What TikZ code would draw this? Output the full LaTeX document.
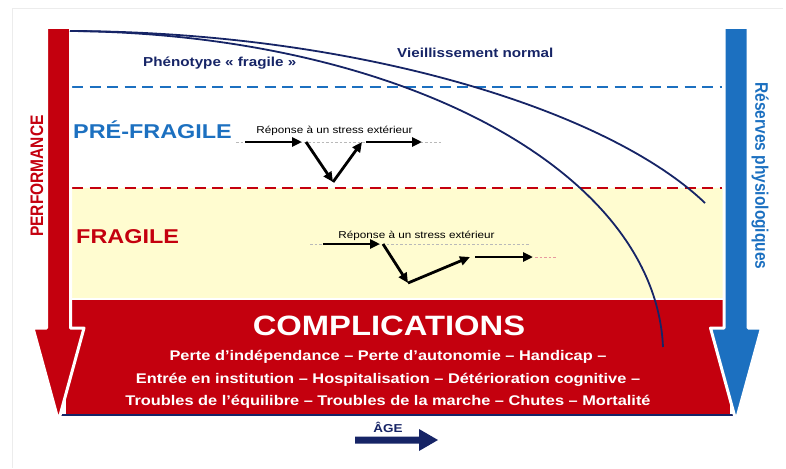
\documentclass[tikz,border=0pt]{standalone}
\usepackage{fontspec}
\setmainfont{Liberation Sans}
\usetikzlibrary{arrows.meta}
\definecolor{fragred}{RGB}{196,0,14}
\definecolor{resblue}{RGB}{28,112,192}
\definecolor{agenavy}{RGB}{22,36,102}
\definecolor{fragyellow}{RGB}{255,252,208}
\newcommand{\fsz}[1]{\fontsize{#1}{#1}\selectfont}

\begin{document}
\begin{tikzpicture}[x=1pt,y=-1pt,
	widetext/.style={xscale=1.17, inner sep=0pt},
	stressarrow/.style={black, line width=2.8pt, -{Triangle[length=10pt,width=9pt]}},
	guide/.style={gray!55, line width=0.8pt, dash pattern=on 2.5pt off 2pt},
	level/.style={line width=2.6pt, dash pattern=on 11pt off 6.5pt},
	agecurve/.style={agenavy, line width=1.8pt},
	bigarrow/.style={draw=white, line width=3pt, line join=round}]
	% Parameters
	\def\shafttop{27.5}
	\def\headtop{328}
	\def\tipy{421}
	\def\lx{58.5}
	\def\rx{736}
	\def\shafthw{12}
	\def\headhw{25.5}
	\def\ypre{87}
	\def\yfrag{188}
	\def\ycomp{300}
	\def\ybase{415}
	
	\useasboundingbox (0,0) rectangle (786,468);
	
	%frame
	\draw[gray!15, line width=0.8pt] (12,468) -- (12,8) -- (783,8);
	
	%zones
	\fill[fragyellow] (66,\yfrag) rectangle (730,298);
	\fill[fragred] (66,\ycomp) rectangle (730,\ybase);
	\draw[agenavy, line width=1.5pt] (60,\ybase) -- (734,\ybase);
	
	%levels
	\draw[level, resblue] (72,\ypre) -- (722,\ypre);
	\draw[level, fragred] (72,\yfrag) -- (722,\yfrag);
	
	%big arrows
	\filldraw[bigarrow, fill=fragred] (\lx-\shafthw,\shafttop) -- (\lx+\shafthw,\shafttop) -- (\lx+\shafthw,\headtop) -- (\lx+\headhw,\headtop) -- (\lx,\tipy) -- (\lx-\headhw,\headtop) -- (\lx-\shafthw,\headtop) -- cycle;
	\filldraw[bigarrow, fill=resblue] (\rx-\shafthw,\shafttop) -- (\rx+\shafthw,\shafttop) -- (\rx+\shafthw,\headtop) -- (\rx+\headhw,\headtop) -- (\rx,\tipy) -- (\rx-\headhw,\headtop) -- (\rx-\shafthw,\headtop) -- cycle;
	
	%curves
	\coordinate (start) at (70,31);
	\coordinate (normalend) at (705,203);
	\coordinate (fragileend) at (663,347);
	\draw[agecurve] (start) .. controls (358,32) and (608,110) .. (normalend);
	\draw[agecurve] (start) .. controls (400,34) and (655,170) .. (fragileend);
	
	%labels
	\node[widetext, agenavy, font=\bfseries\fsz{13}, anchor=base west] (pheno) at (143,67) {Phénotype « fragile »};
	\node[widetext, agenavy, font=\bfseries\fsz{13}, anchor=base west] (normal) at (397,58) {Vieillissement normal};
	\node[widetext, resblue, font=\bfseries\fsz{20}, anchor=base west] (prefrag) at (73,138) {PRÉ-FRAGILE};
	\node[widetext, fragred, font=\bfseries\fsz{20}, anchor=base west] (frag) at (76,243) {FRAGILE};
	\node[xscale=1.17, rotate=90, inner sep=0pt, fragred, font=\bfseries\fsz{15.5}] (perf) at (37,176) {PERFORMANCE};
	\node[xscale=1.17, rotate=-90, inner sep=0pt, resblue, font=\bfseries\fsz{15.5}] (reserves) at (760,176) {Réserves physiologiques};
	
	%complications
	\node[widetext, white, font=\bfseries\fsz{28}, anchor=base] (comp) at (389,335) {COMPLICATIONS};
	\node[widetext, white, font=\bfseries\fsz{14}, anchor=base] (compi) at (388,360) {Perte d’indépendance – Perte d’autonomie – Handicap –};
	\node[widetext, white, font=\bfseries\fsz{14}, anchor=base] (compii) at (388,383) {Entrée en institution – Hospitalisation – Détérioration cognitive –};
	\node[widetext, white, font=\bfseries\fsz{14}, anchor=base] (compiii) at (388,405) {Troubles de l’équilibre – Troubles de la marche – Chutes – Mortalité};
	
	%stress pre-fragile
	\node[widetext, font=\fsz{10}, anchor=base] (stressa) at (334.5,133) {Réponse à un stress extérieur};
	\coordinate (a0) at (245,142);
	\coordinate (a1) at (302,142);
	\coordinate (a2) at (306,142);
	\coordinate (a3) at (333,182);
	\coordinate (a4) at (362,142);
	\coordinate (a5) at (366,142);
	\coordinate (a6) at (422,142);
	\draw[guide] (236,142) -- (442,142);
	\draw[stressarrow] (a0) -- (a1);
	\draw[stressarrow] (a2) -- (a3);
	\draw[stressarrow] (a3) -- (a4);
	\draw[stressarrow] (a5) -- (a6);
	
	%stress fragile
	\node[widetext, font=\fsz{10}, anchor=base] (stressb) at (416.5,238) {Réponse à un stress extérieur};
	\coordinate (b0) at (323,244);
	\coordinate (b1) at (380,244);
	\coordinate (b2) at (383,244);
	\coordinate (b3) at (408,283);
	\coordinate (b4) at (470,257);
	\coordinate (b5) at (475,257);
	\coordinate (b6) at (533,257);
	\draw[guide] (310,244) -- (530,244);
	\draw[guide, fragred!40] (535,257) -- (556,257);
	\draw[stressarrow] (b0) -- (b1);
	\draw[stressarrow] (b2) -- (b3);
	\draw[stressarrow] (b3) -- (b4);
	\draw[stressarrow] (b5) -- (b6);
	
	%age
	\node[widetext, agenavy, font=\bfseries\fsz{11.5}, anchor=base] (age) at (388,432) {ÂGE};
	\fill[agenavy] (355,436.5) -- (419,436.5) -- (419,429) -- (438,440) -- (419,451) -- (419,443.5) -- (355,443.5) -- cycle;
	
\end{tikzpicture}
\end{document}
